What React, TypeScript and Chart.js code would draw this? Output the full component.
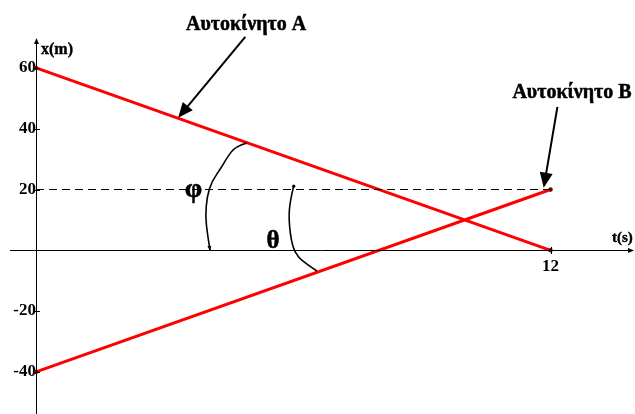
import React, { useEffect, useRef } from "react";
import { Chart, registerables } from "chart.js";

Chart.register(...registerables);

// ---- data ----
const times = [0, 12];
const carA = [60, 0];
const carB = [-40, 20];
const meetLevel = [20, 20];
const yTickValues = [-40, -20, 20, 40, 60];
const xTickValues = [12];

// annotation geometry (data units)
const labelA = { t: 4.9, x: 74.2, text: "Αυτοκίνητο Α" };
const arrowA = [4.88, 70.2, 3.315, 43.6];
const labelB = { t: 12.5, x: 51.8, text: "Αυτοκίνητο Β" };
const arrowB = [12.16, 47.2, 11.84, 20.6];
const phiLabel = { t: 3.67, x: 20, text: "φ" };
const thetaLabel = { t: 5.53, x: 2.95, text: "θ" };
const phiCurve = [
  [4.92, 35.3], [4.65, 34.2], [4.45, 30.4], [4.34, 27.6], [4.1, 22.7],
  [3.99, 17.8], [3.95, 11.2], [4.0, 5.2], [4.06, -0.2],
];
const thetaCurve = [
  [6.01, 21.1], [5.93, 16.7], [5.89, 10.2], [5.97, 1.4], [6.12, -2.4],
  [6.32, -4.6], [6.55, -6.8],
];

const FONT = "'Liberation Serif', 'Times New Roman', serif";

function pts(ys: number[]) {
  return times.map((t, i) => ({ x: t, y: ys[i] }));
}

function arrowHead(ctx: CanvasRenderingContext2D, x1: number, y1: number, x2: number, y2: number, len: number, half: number) {
  const a = Math.atan2(y2 - y1, x2 - x1);
  ctx.beginPath();
  ctx.moveTo(x2, y2);
  ctx.lineTo(x2 - len * Math.cos(a) + half * Math.sin(a), y2 - len * Math.sin(a) - half * Math.cos(a));
  ctx.lineTo(x2 - len * Math.cos(a) - half * Math.sin(a), y2 - len * Math.sin(a) + half * Math.cos(a));
  ctx.closePath();
  ctx.fill();
}

function heavyText(ctx: CanvasRenderingContext2D, s: string, x: number, y: number, w: number) {
  ctx.lineWidth = w;
  ctx.strokeText(s, x, y);
  ctx.fillText(s, x, y);
}

const decor = {
  id: "decor",
  afterDatasetsDraw(chart: any) {
    const ctx: CanvasRenderingContext2D = chart.ctx;
    const xs = chart.scales.x;
    const ys = chart.scales.y;
    const px = (t: number) => xs.getPixelForValue(t);
    const py = (v: number) => ys.getPixelForValue(v);
    const x0 = Math.round(px(0));
    const y0 = Math.round(py(0));
    const W = chart.width;
    const H = chart.height;
    ctx.save();
    ctx.strokeStyle = "#000";
    ctx.fillStyle = "#000";
    ctx.lineJoin = "round";
    // axes
    ctx.lineWidth = 1;
    ctx.beginPath();
    ctx.moveTo(chart.chartArea.left, y0 + 0.5);
    ctx.lineTo(W - 2, y0 + 0.5);
    ctx.moveTo(x0 + 0.5, H);
    ctx.lineTo(x0 + 0.5, chart.chartArea.top + 2);
    ctx.stroke();
    arrowHead(ctx, 0, y0 + 0.5, W - 1, y0 + 0.5, 6, 2.5);
    arrowHead(ctx, x0 + 0.5, H, x0 + 0.5, chart.chartArea.top, 6, 2.5);
    // tick marks
    ctx.beginPath();
    yTickValues.forEach((v) => {
      const y = Math.round(py(v)) + 0.5;
      ctx.moveTo(x0 - 3, y);
      ctx.lineTo(x0 + 4, y);
    });
    xTickValues.forEach((t) => {
      const x = Math.round(px(t)) + 0.5;
      ctx.moveTo(x, y0 - 3);
      ctx.lineTo(x, y0 + 4);
    });
    ctx.stroke();
    // axis titles
    ctx.textBaseline = "middle";
    ctx.textAlign = "left";
    ctx.font = `bold 16px ${FONT}`;
    heavyText(ctx, "x(m)", x0 + 5, chart.chartArea.top + 12, 0.4);
    ctx.font = `bold 15px ${FONT}`;
    heavyText(ctx, "t(s)", W - 23, y0 - 12, 0.4);
    // car labels
    ctx.font = `bold 20px ${FONT}`;
    ctx.textAlign = "center";
    heavyText(ctx, labelA.text, px(labelA.t), py(labelA.x), 0.5);
    heavyText(ctx, labelB.text, px(labelB.t), py(labelB.x), 0.5);
    // arrows
    ctx.lineWidth = 2;
    const drawArrow = (a: number[]) => {
      const ax1 = px(a[0]), ay1 = py(a[1]), ax2 = px(a[2]), ay2 = py(a[3]);
      const ang = Math.atan2(ay2 - ay1, ax2 - ax1);
      ctx.beginPath();
      ctx.moveTo(ax1, ay1);
      ctx.lineTo(ax2 - 10 * Math.cos(ang), ay2 - 10 * Math.sin(ang));
      ctx.stroke();
      arrowHead(ctx, ax1, ay1, ax2, ay2, 15, 6.5);
    };
    drawArrow(arrowA);
    drawArrow(arrowB);
    // angle symbols
    ctx.font = `bold 28px ${FONT}`;
    heavyText(ctx, phiLabel.text, px(phiLabel.t), py(phiLabel.x), 0.6);
    ctx.font = `bold 25px ${FONT}`;
    heavyText(ctx, thetaLabel.text, px(thetaLabel.t), py(thetaLabel.x), 0.6);
    // hand-drawn curves
    ctx.lineWidth = 1.6;
    const curve = (c: number[][]) => {
      const p = c.map(([t, v]) => [px(t), py(v)]);
      ctx.beginPath();
      ctx.moveTo(p[0][0], p[0][1]);
      for (let i = 1; i < p.length - 1; i++) {
        const mx = (p[i][0] + p[i + 1][0]) / 2;
        const my = (p[i][1] + p[i + 1][1]) / 2;
        ctx.quadraticCurveTo(p[i][0], p[i][1], mx, my);
      }
      ctx.lineTo(p[p.length - 1][0], p[p.length - 1][1]);
      ctx.stroke();
      return p;
    };
    const pp = curve(phiCurve);
    const n = pp.length;
    arrowHead(ctx, pp[n - 2][0], pp[n - 2][1], pp[n - 1][0], pp[n - 1][1], 5, 2);
    const tp = curve(thetaCurve);
    ctx.beginPath();
    ctx.arc(tp[0][0], tp[0][1], 1.6, 0, Math.PI * 2);
    ctx.fill();
    ctx.restore();
  },
};

export default function App() {
  const ref = useRef<HTMLCanvasElement | null>(null);
  useEffect(() => {
    if (!ref.current) return;
    const tickFont = { family: FONT, size: 17, weight: "bold" as const };
    const chart = new Chart(ref.current, {
      type: "scatter",
      data: {
        datasets: [
          {
            data: pts(meetLevel),
            showLine: true,
            borderColor: "#000",
            borderWidth: 1,
            borderDash: [8, 5],
            pointRadius: 0,
          },
          {
            data: pts(carA),
            showLine: true,
            borderColor: "#ff0000",
            borderWidth: 3,
            pointRadius: 2.2,
            pointBackgroundColor: "#7a0000",
            pointBorderColor: "#7a0000",
            pointBorderWidth: 0,
          },
          {
            data: pts(carB),
            showLine: true,
            borderColor: "#ff0000",
            borderWidth: 3,
            pointRadius: 2.2,
            pointBackgroundColor: "#7a0000",
            pointBorderColor: "#7a0000",
            pointBorderWidth: 0,
          },
        ],
      },
      options: {
        animation: false,
        responsive: false,
        maintainAspectRatio: false,
        layout: { padding: { left: 10, right: 1, top: 38, bottom: 0 } },
        plugins: { legend: { display: false }, tooltip: { enabled: false } },
        scales: {
          x: {
            type: "linear",
            position: { y: 0 } as any,
            min: -0.607,
            max: 13.876,
            grid: { display: false, drawTicks: false },
            border: { display: false },
            afterBuildTicks: (s: any) => {
              s.ticks = xTickValues.map((v) => ({ value: v }));
            },
            ticks: { font: tickFont, color: "#000", padding: 6, maxRotation: 0, autoSkip: false },
          },
          y: {
            type: "linear",
            position: { x: 0 } as any,
            min: -49.18,
            max: 69.84,
            grid: { display: false, drawTicks: false },
            border: { display: false },
            afterBuildTicks: (s: any) => {
              s.ticks = yTickValues.map((v) => ({ value: v }));
            },
            ticks: { font: tickFont, color: "#000", padding: 4, autoSkip: false },
          },
        },
      },
      plugins: [decor],
    });
    return () => chart.destroy();
  }, []);
  return (
    <div style={{ position: "fixed", left: 0, top: 0, width: 635, height: 414, background: "#fff" }}>
      <canvas ref={ref} width={635} height={414} />
    </div>
  );
}
